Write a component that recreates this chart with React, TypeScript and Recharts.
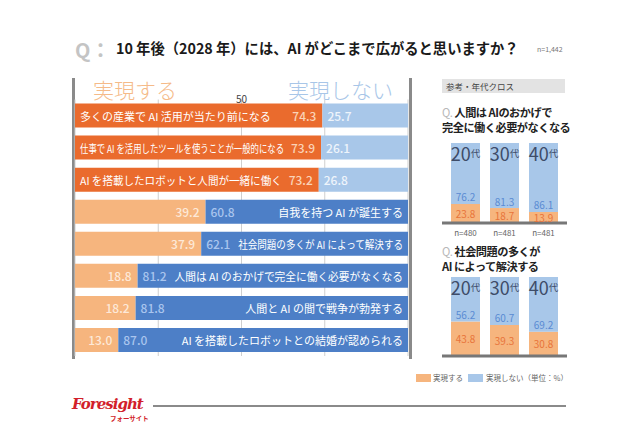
import { BarChart, Bar, XAxis, YAxis, CartesianGrid, Cell, LabelList } from "recharts";

const items = [
  "多くの産業で AI 活用が当たり前になる",
  "仕事で AI を活用したツールを使うことが一般的になる",
  "AI を搭載したロボットと人間が一緒に働く",
  "自我を持つ AI が誕生する",
  "社会問題の多くが AI によって解決する",
  "人間は AI のおかげで完全に働く必要がなくなる",
  "人間と AI の間で戦争が勃発する",
  "AI を搭載したロボットとの結婚が認められる",
];
const yesValues = [74.3, 73.9, 73.2, 39.2, 37.9, 18.8, 18.2, 13.0];
const noValues = [25.7, 26.1, 26.8, 60.8, 62.1, 81.2, 81.8, 87.0];
const gridTicks = [25, 50, 75];

const ages = ["20", "30", "40"];
const sampleSizes = ["n=480", "n=481", "n=481"];
const workYes = [23.8, 18.7, 13.9];
const workNo = [76.2, 81.3, 86.1];
const socialYes = [43.8, 39.3, 30.8];
const socialNo = [56.2, 60.7, 69.2];

const FONT = '"Noto Sans CJK JP", "Noto Sans", sans-serif';
const LABEL_SIZE = 11;

const DARK_ORANGE = "#ea6b2d";
const LIGHT_ORANGE = "#f6b57e";
const DARK_BLUE = "#4d7fc7";
const LIGHT_BLUE = "#a8c7e9";

const mainData = items.map((item, i) => ({ item, yes: yesValues[i], no: noValues[i] }));
const workData = ages.map((age, i) => ({ age, yes: workYes[i], no: workNo[i] }));
const socialData = ages.map((age, i) => ({ age, yes: socialYes[i], no: socialNo[i] }));

let ctx: CanvasRenderingContext2D | null = null;
const measure = (s: string) => {
  if (!ctx) ctx = document.createElement("canvas").getContext("2d");
  if (!ctx) return 0;
  ctx.font = `${LABEL_SIZE}px "Noto Sans CJK JP"`;
  return ctx.measureText(s).width;
};

// squeeze long item texts so they fit next to the value label
const fitLength = (s: string, avail: number) => (measure(s) > avail ? avail : undefined);

const box = (p: any) => {
  const vb = p.viewBox || {};
  return {
    x: p.x ?? vb.x,
    y: p.y ?? vb.y,
    width: p.width ?? vb.width,
    height: p.height ?? vb.height,
  };
};

const YesLabel = (props: any) => {
  const { x, y, width, height } = box(props);
  const i = props.index;
  const high = yesValues[i] >= 50;
  const cy = y + height / 2;
  const tl = high ? fitLength(items[i], width - 42) : undefined;
  return (
    <g fontFamily={FONT}>
      {high && (
        <text
          x={x + 5}
          y={cy}
          dominantBaseline="central"
          fill="#fff"
          fontSize={LABEL_SIZE}
          textLength={tl}
          lengthAdjust={tl ? "spacingAndGlyphs" : undefined}
        >
          {items[i]}
        </text>
      )}
      <text
        x={x + width - 6}
        y={cy}
        textAnchor="end"
        dominantBaseline="central"
        fill={high ? "#fad3b8" : "#fde9d8"}
        fontSize={12}
        fontWeight={500}
      >
        {yesValues[i].toFixed(1)}
      </text>
    </g>
  );
};

const NoLabel = (props: any) => {
  const { x, y, width, height } = box(props);
  const i = props.index;
  const high = yesValues[i] >= 50;
  const cy = y + height / 2;
  const tl = !high ? fitLength(items[i], width - 42) : undefined;
  return (
    <g fontFamily={FONT}>
      <text
        x={x + 5}
        y={cy}
        dominantBaseline="central"
        fill={high ? "#eef4fb" : "#a9c5ee"}
        fontSize={12}
        fontWeight={500}
      >
        {noValues[i].toFixed(1)}
      </text>
      {!high && (
        <text
          x={x + width - 5}
          y={cy}
          textAnchor="end"
          dominantBaseline="central"
          fill="#fff"
          fontSize={LABEL_SIZE}
          textLength={tl}
          lengthAdjust={tl ? "spacingAndGlyphs" : undefined}
        >
          {items[i]}
        </text>
      )}
    </g>
  );
};

const makeSmallNoLabel = (noArr: number[]) => (props: any) => {
  const { x, y, width, height } = box(props);
  const i = props.index;
  return (
    <g fontFamily={FONT}>
      <text x={x + width / 2} y={y + 9.5} textAnchor="middle" dominantBaseline="central" fill="#3e4c68">
        <tspan fontSize={18}>{ages[i]}</tspan>
        <tspan fontSize={9.5}>代</tspan>
      </text>
      <text
        x={x + width / 2}
        y={y + height - 7}
        textAnchor="middle"
        dominantBaseline="central"
        fill="#5a8bd3"
        fontSize={10}
      >
        {noArr[i].toFixed(1)}
      </text>
    </g>
  );
};

const makeSmallYesLabel = (yesArr: number[], showN: boolean) => (props: any) => {
  const { x, y, width, height } = box(props);
  const i = props.index;
  return (
    <g fontFamily={FONT}>
      <text
        x={x + width / 2}
        y={y + height / 2}
        textAnchor="middle"
        dominantBaseline="central"
        fill="#e8743a"
        fontSize={10}
      >
        {yesArr[i].toFixed(1)}
      </text>
      {showN && (
        <text
          x={x + width / 2}
          y={y + height + 9}
          textAnchor="middle"
          dominantBaseline="central"
          fill="#666"
          fontSize={8}
        >
          {sampleSizes[i]}
        </text>
      )}
    </g>
  );
};

function SmallChart({ data, yesArr, noArr, top, height, showN }: any) {
  return (
    <div style={{ position: "absolute", left: 430, top, width: 150, height }}>
      <BarChart width={150} height={height} data={data} margin={{ top: 13, right: 13, left: 12, bottom: 2 }}>
        <XAxis
          dataKey="age"
          height={20}
          tickLine={false}
          axisLine={{ stroke: "#777", strokeWidth: 3 }}
          padding={{ left: 4, right: 4 }}
          tick={false}
        />
        <YAxis hide domain={[0, 100]} />
        <Bar dataKey="yes" stackId="s" fill={LIGHT_ORANGE} barSize={29} isAnimationActive={false}>
          <LabelList dataKey="yes" content={makeSmallYesLabel(yesArr, showN)} />
        </Bar>
        <Bar dataKey="no" stackId="s" fill={LIGHT_BLUE} barSize={29} isAnimationActive={false}>
          <LabelList dataKey="no" content={makeSmallNoLabel(noArr)} />
        </Bar>
      </BarChart>
    </div>
  );
}

const questionStyle: any = {
  position: "absolute",
  left: 442,
  fontSize: 11.2,
  letterSpacing: -0.5,
  lineHeight: "15px",
  fontWeight: 700,
  color: "#222",
  whiteSpace: "nowrap",
};

export default function App() {
  return (
    <div
      style={{
        position: "fixed",
        left: 0,
        top: 0,
        width: 640,
        height: 426,
        background: "#fff",
        fontFamily: FONT,
        overflow: "hidden",
      }}
    >
      {/* title */}
      <div style={{ position: "absolute", left: 75, top: 35, fontSize: 20, fontWeight: 700, color: "#c4c4c4" }}>
        Q：
      </div>
      <div
        style={{
          position: "absolute",
          left: 116,
          top: 37,
          fontSize: 14.3,
          fontWeight: 700,
          color: "#1a1a1a",
          whiteSpace: "nowrap",
        }}
      >
        10 年後（2028 年）には、AI がどこまで広がると思いますか？
      </div>
      <div style={{ position: "absolute", left: 537, top: 44, fontSize: 7, color: "#777" }}>n=1,442</div>

      {/* main frame */}
      <div
        style={{
          position: "absolute",
          left: 72,
          top: 78,
          width: 334,
          height: 281,
          borderLeft: "3px solid #8a8a8a",
          borderRight: "3px solid #8a8a8a",
        }}
      />
      <div style={{ position: "absolute", left: 93, top: 74, fontSize: 21, fontWeight: 300, color: "#f5ba88" }}>
        実現する
      </div>
      <div style={{ position: "absolute", left: 288, top: 74, fontSize: 21, fontWeight: 300, color: "#a8c6e8" }}>
        実現しない
      </div>

      <div style={{ position: "absolute", left: 60, top: 78 }}>
        <BarChart
          layout="vertical"
          width={365}
          height={282}
          data={mainData}
          margin={{ top: 1.5, right: 17, left: 15, bottom: 4 }}
          barSize={24}
        >
          <CartesianGrid horizontal={false} stroke="#cfcfcf" />
          <XAxis
            type="number"
            orientation="top"
            domain={[0, 100]}
            ticks={gridTicks}
            height={20}
            axisLine={false}
            tickLine={false}
            tickSize={0}
            tickMargin={-3}
            tickFormatter={(v: number) => (v === 50 ? "50" : "")}
            tick={{ fontSize: 10, fill: "#444", fontFamily: FONT }}
          />
          <YAxis type="category" dataKey="item" hide />
          <Bar dataKey="yes" stackId="a" isAnimationActive={false}>
            {mainData.map((d, i) => (
              <Cell key={i} fill={d.yes >= 50 ? DARK_ORANGE : LIGHT_ORANGE} />
            ))}
            <LabelList dataKey="yes" content={YesLabel} />
          </Bar>
          <Bar dataKey="no" stackId="a" isAnimationActive={false}>
            {mainData.map((d, i) => (
              <Cell key={i} fill={d.yes >= 50 ? LIGHT_BLUE : DARK_BLUE} />
            ))}
            <LabelList dataKey="no" content={NoLabel} />
          </Bar>
        </BarChart>
      </div>

      {/* right panel */}
      <div
        style={{
          position: "absolute",
          left: 442,
          top: 79,
          width: 123,
          height: 14,
          background: "#e3e3e3",
          fontSize: 8.5,
          lineHeight: "14px",
          color: "#444",
          paddingLeft: 4,
          boxSizing: "border-box",
        }}
      >
        参考・年代クロス
      </div>
      <div style={{ ...questionStyle, top: 105 }}>
        <span style={{ color: "#b8b8b8", fontWeight: 400 }}>Q.</span> 人間は AIのおかげで
        <br />
        完全に働く必要がなくなる
      </div>
      <SmallChart data={workData} yesArr={workYes} noArr={workNo} top={130} height={115} showN />

      <div style={{ ...questionStyle, top: 244 }}>
        <span style={{ color: "#b8b8b8", fontWeight: 400 }}>Q.</span> 社会問題の多くが
        <br />
        AI によって解決する
      </div>
      <SmallChart data={socialData} yesArr={socialYes} noArr={socialNo} top={264} height={114} showN={false} />

      {/* legend */}
      <div style={{ position: "absolute", left: 416, top: 372, display: "flex", alignItems: "center", fontSize: 7.5, color: "#666" }}>
        <span style={{ width: 15, height: 8, background: LIGHT_ORANGE, display: "inline-block", marginRight: 2 }} />
        <span>実現する</span>
        <span style={{ width: 15, height: 8, background: LIGHT_BLUE, display: "inline-block", margin: "0 3px 0 5px" }} />
        <span>実現しない（単位：%）</span>
      </div>

      {/* footer */}
      <div style={{ position: "absolute", left: 153, top: 405, width: 413, height: 1.5, background: "#8a8a8a" }} />
      <div
        style={{
          position: "absolute",
          left: 72,
          top: 395,
          fontFamily: '"DejaVu Serif", serif',
          fontStyle: "italic",
          fontWeight: 700,
          fontSize: 15,
          color: "#d21f2b",
          letterSpacing: -1,
        }}
      >
        Foresight
      </div>
      <div style={{ position: "absolute", left: 110, top: 413, fontSize: 6.5, fontWeight: 700, color: "#d21f2b" }}>
        フォーサイト
      </div>
    </div>
  );
}
